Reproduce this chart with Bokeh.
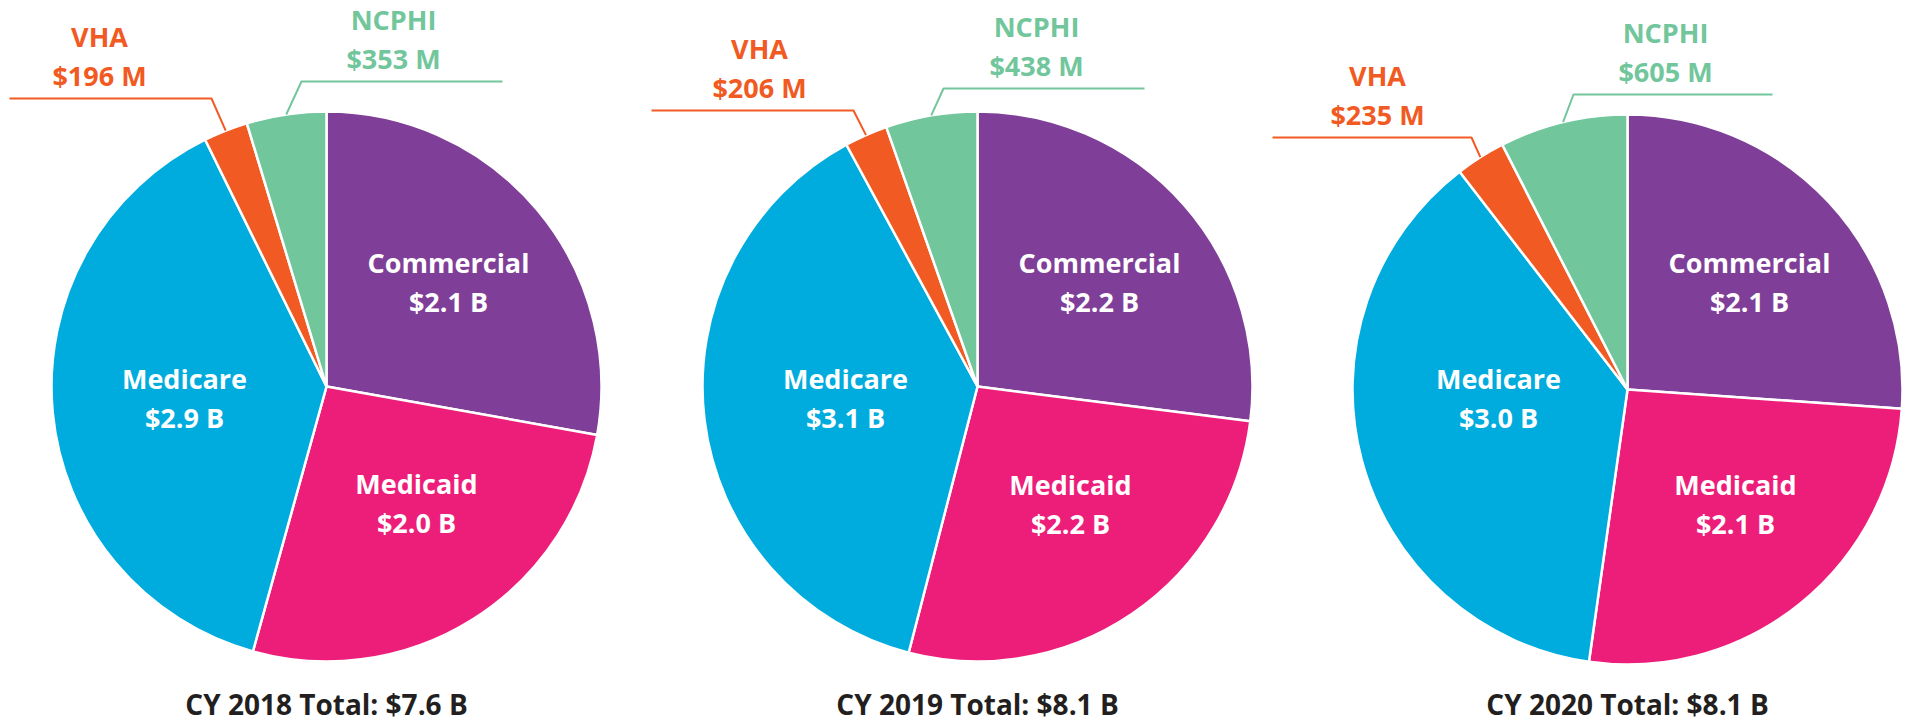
import numpy as np
from bokeh.plotting import figure
from bokeh.models import Range1d, ColumnDataSource
from bokeh.embed import file_html
from bokeh.resources import INLINE
from bokeh.core.properties import value

# ---------------- data ----------------
categories = ["Commercial", "Medicaid", "Medicare", "VHA", "NCPHI"]
years = ["CY 2018", "CY 2019", "CY 2020"]
totals = ["$7.6 B", "$8.1 B", "$8.1 B"]

values_2018 = [2.1, 2.0, 2.9, 0.196, 0.353]   # $ billions
values_2019 = [2.2, 2.2, 3.1, 0.206, 0.438]
values_2020 = [2.1, 2.1, 3.0, 0.235, 0.605]

labels_2018 = ["$2.1 B", "$2.0 B", "$2.9 B", "$196 M", "$353 M"]
labels_2019 = ["$2.2 B", "$2.2 B", "$3.1 B", "$206 M", "$438 M"]
labels_2020 = ["$2.1 B", "$2.1 B", "$3.0 B", "$235 M", "$605 M"]

all_values = [values_2018, values_2019, values_2020]
all_labels = [labels_2018, labels_2019, labels_2020]

# ---------------- styles / layout ----------------
colors = ["#7F3F98", "#ED1E79", "#00ACDD", "#F15A22", "#72C69C"]
FONT = "Open Sans"
FS = 27
W, H = 1913, 723
R = 275
centers = [(326, 386), (977, 386), (1627, 389)]
# inner label offsets (dx, dy) from pie centre, per pie
inner_pos = [
    {"Commercial": (122, -103), "Medicaid": (90, 118), "Medicare": (-142, 13)},
    {"Commercial": (122, -103), "Medicaid": (93, 119), "Medicare": (-132, 13)},
    {"Commercial": (122, -106), "Medicaid": (108, 116), "Medicare": (-129, 10)},
]
# leader layout per pie: category -> (knee dx, knee dy, horizontal end dx, text dx)
leaders = [
    {"VHA": (-115, -288, -317, -227), "NCPHI": (-25, -305, 176, 67)},
    {"VHA": (-124, -276, -326, -218), "NCPHI": (-34, -298, 167, 59)},
    {"VHA": (-156, -252, -355, -250), "NCPHI": (-54, -295, 145, 38)},
]
TEXT_SHIFT = 11  # renderer baseline correction (px)

p = figure(width=W, height=H, x_range=Range1d(0, W), y_range=Range1d(-H, 0),
           output_backend="svg", toolbar_location=None, min_border=0,
           x_axis_location=None, y_axis_location=None)
p.xgrid.grid_line_color = None
p.ygrid.grid_line_color = None
p.outline_line_color = None
p.background_fill_color = "white"
p.border_fill_color = "white"


def add_text(x, y_center, txt, color, size=FS):
    half_cap = 0.357 * size
    p.text(x=[x], y=[-(y_center + half_cap - TEXT_SHIFT)], text=[txt], text_color=color,
           text_font=value(FONT), text_font_style="bold", text_font_size=f"{size}px",
           text_align="center", text_baseline="alphabetic")


for i, (vals, labs) in enumerate(zip(all_values, all_labels)):
    cx, cy = centers[i]
    v = np.array(vals, dtype=float)
    frac = v / v.sum()
    cum = np.concatenate([[0.0], np.cumsum(frac)])
    start = np.pi / 2 - 2 * np.pi * cum[:-1]
    end = np.pi / 2 - 2 * np.pi * cum[1:]
    src = ColumnDataSource(dict(x=[cx] * len(v), y=[-cy] * len(v), start=start, end=end, color=colors))
    p.wedge(x="x", y="y", radius=R, start_angle="start", end_angle="end", direction="clock",
            fill_color="color", line_color="white", line_width=2.5, source=src)
    mid = 2 * np.pi * (cum[:-1] + cum[1:]) / 2  # clockwise from 12 o'clock

    for k, cat in enumerate(categories):
        th = mid[k]
        if cat in inner_pos[i]:
            dx, dy = inner_pos[i][cat]
            lx, ly = cx + dx, cy + dy
            add_text(lx, ly - 19.5, cat, "white")
            add_text(lx, ly + 19.5, labs[k], "white")
        else:
            kdx, kdy, edx, tdx = leaders[i][cat]
            ex = cx + R * np.sin(th)
            ey = cy - R * np.cos(th)
            kx, ky = cx + kdx, cy + kdy
            p.line(x=[ex, kx, cx + edx], y=[-ey, -ky, -ky], line_color=colors[k], line_width=2)
            add_text(cx + tdx, ky - 61, cat, colors[k])
            add_text(cx + tdx, ky - 22, labs[k], colors[k])

    add_text(cx, 705, f"{years[i]} Total: {totals[i]}", "#231F20", size=28)

open("out.html", "w").write(file_html(p, INLINE))
